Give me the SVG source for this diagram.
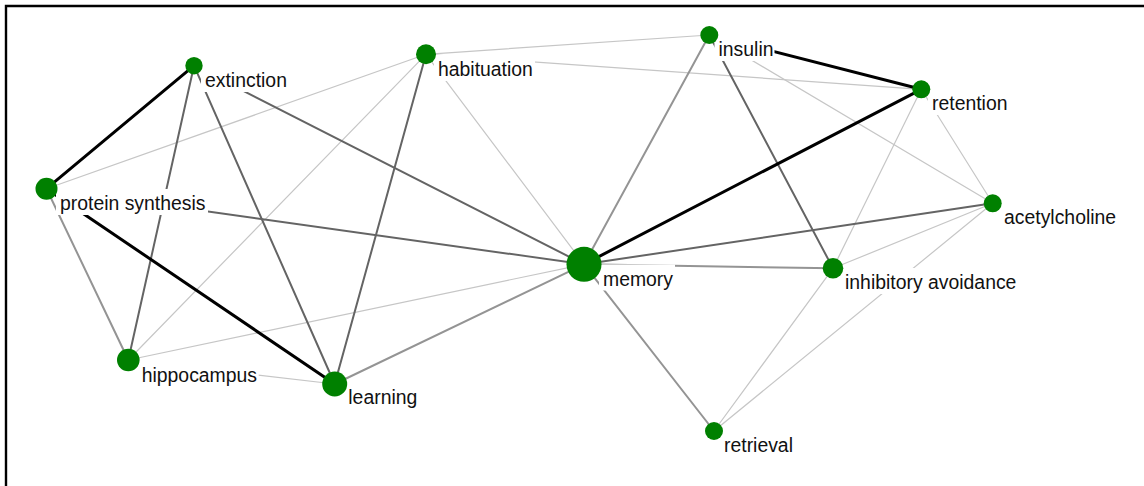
<svg xmlns="http://www.w3.org/2000/svg" width="1144" height="486" viewBox="0 0 1144 486">
<style>
.b{stroke:#000;stroke-width:3}
.d{stroke:#646464;stroke-width:2}
.m{stroke:#949494;stroke-width:2}
.l{stroke:#c6c6c6;stroke-width:1.2}
.node circle{fill:#008000}
.lbl rect{fill:#fff}
.lbl text{font-family:"Liberation Sans",Arial,sans-serif;font-size:19.4px;fill:#111}
</style>
<rect width="1144" height="486" fill="#fff"/>
<path d="M6,486 V6 H1144" fill="none" stroke="#000" stroke-width="2.4"/>
<g id="connectors" fill="none" stroke-linecap="round">
<line class="l" x1="46.5" y1="188.7" x2="426" y2="54.3"/>
<line class="l" x1="426" y1="54.3" x2="128.3" y2="360"/>
<line class="l" x1="426" y1="54.3" x2="709.3" y2="35"/>
<line class="l" x1="426" y1="54.3" x2="921.3" y2="89.3"/>
<line class="l" x1="426" y1="54.3" x2="584" y2="264.3"/>
<line class="l" x1="128.3" y1="360" x2="334.7" y2="384"/>
<line class="l" x1="128.3" y1="360" x2="584" y2="264.3"/>
<line class="l" x1="709.3" y1="35" x2="992.7" y2="203.3"/>
<line class="l" x1="921.3" y1="89.3" x2="992.7" y2="203.3"/>
<line class="l" x1="921.3" y1="89.3" x2="833" y2="268.3"/>
<line class="l" x1="992.7" y1="203.3" x2="833" y2="268.3"/>
<line class="l" x1="992.7" y1="203.3" x2="714" y2="431"/>
<line class="l" x1="833" y1="268.3" x2="714" y2="431"/>
<line class="m" x1="46.5" y1="188.7" x2="128.3" y2="360"/>
<line class="m" x1="334.7" y1="384" x2="584" y2="264.3"/>
<line class="m" x1="584" y1="264.3" x2="714" y2="431"/>
<line class="m" x1="584" y1="264.3" x2="709.3" y2="35"/>
<line class="m" x1="584" y1="264.3" x2="833" y2="268.3"/>
<line class="d" x1="194" y1="65.7" x2="128.3" y2="360"/>
<line class="d" x1="194" y1="65.7" x2="334.7" y2="384"/>
<line class="d" x1="194" y1="65.7" x2="584" y2="264.3"/>
<line class="d" x1="46.5" y1="188.7" x2="584" y2="264.3"/>
<line class="d" x1="426" y1="54.3" x2="334.7" y2="384"/>
<line class="d" x1="709.3" y1="35" x2="833" y2="268.3"/>
<line class="d" x1="584" y1="264.3" x2="992.7" y2="203.3"/>
<line class="b" x1="194" y1="65.7" x2="46.5" y2="188.7"/>
<line class="b" x1="46.5" y1="188.7" x2="334.7" y2="384"/>
<line class="b" x1="709.3" y1="35" x2="921.3" y2="89.3"/>
<line class="b" x1="584" y1="264.3" x2="921.3" y2="89.3"/>
</g>
<g id="labels" class="lbl">
<rect x="201" y="66" width="88" height="26"/><text x="205" y="87">extinction</text>
<rect x="56" y="189" width="152" height="26"/><text x="60" y="210">protein synthesis</text>
<rect x="434" y="55" width="101" height="26"/><text x="438" y="76">habituation</text>
<rect x="714.5" y="35" width="60" height="26"/><text x="718.5" y="56">insulin</text>
<rect x="928" y="89" width="82" height="26"/><text x="932" y="110">retention</text>
<rect x="1000" y="203" width="118" height="26"/><text x="1004" y="224">acetylcholine</text>
<rect x="599" y="264.5" width="76" height="26"/><text x="603" y="285.5">memory</text>
<rect x="841" y="268" width="177" height="26"/><text x="845" y="289">inhibitory avoidance</text>
<rect x="720" y="430.5" width="75" height="26"/><text x="724" y="451.5">retrieval</text>
<rect x="137.7" y="360.5" width="121" height="26"/><text x="141.7" y="381.5">hippocampus</text>
<rect x="344.3" y="383" width="75" height="26"/><text x="348.3" y="404">learning</text>
</g>
<g id="n-extinction" class="node"><circle cx="194" cy="65.7" r="8.7"/></g>
<g id="n-protein-synthesis" class="node"><circle cx="46.5" cy="188.7" r="11"/></g>
<g id="n-habituation" class="node"><circle cx="426" cy="54.3" r="10"/></g>
<g id="n-insulin" class="node"><circle cx="709.3" cy="35" r="9"/></g>
<g id="n-retention" class="node"><circle cx="921.3" cy="89.3" r="9"/></g>
<g id="n-acetylcholine" class="node"><circle cx="992.7" cy="203.3" r="9"/></g>
<g id="n-memory" class="node"><circle cx="584" cy="264.3" r="17.5"/></g>
<g id="n-inhibitory-avoidance" class="node"><circle cx="833" cy="268.3" r="10.3"/></g>
<g id="n-retrieval" class="node"><circle cx="714" cy="431" r="9"/></g>
<g id="n-hippocampus" class="node"><circle cx="128.3" cy="360" r="11.3"/></g>
<g id="n-learning" class="node"><circle cx="334.7" cy="384" r="12.5"/></g>
</svg>
